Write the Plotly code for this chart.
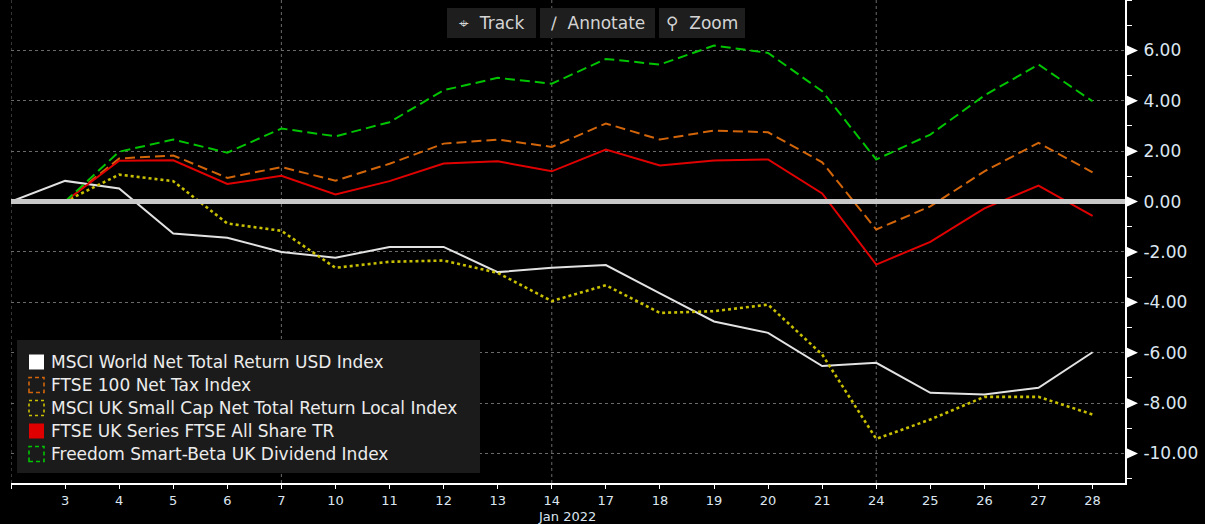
import plotly.graph_objects as go

# ---------------- data ----------------
dates = ["2021-12-31", "2022-01-03", "2022-01-04", "2022-01-05", "2022-01-06", "2022-01-07",
         "2022-01-10", "2022-01-11", "2022-01-12", "2022-01-13", "2022-01-14", "2022-01-17",
         "2022-01-18", "2022-01-19", "2022-01-20", "2022-01-21", "2022-01-24", "2022-01-25",
         "2022-01-26", "2022-01-27", "2022-01-28"]
day_labels = ["", "3", "4", "5", "6", "7", "10", "11", "12", "13", "14", "17", "18", "19",
              "20", "21", "24", "25", "26", "27", "28"]
week_grid_dates = ["2021-12-31", "2022-01-07", "2022-01-14", "2022-01-24"]

msci_world = [0, 0.82, 0.52, -1.27, -1.44, -2.00, -2.23, -1.80, -1.80, -2.80, -2.63, -2.52,
              -3.64, -4.76, -5.21, -6.53, -6.40, -7.59, -7.66, -7.39, -5.98]
ftse100 = [None, 0, 1.71, 1.83, 0.94, 1.37, 0.83, 1.50, 2.30, 2.46, 2.17, 3.10,
           2.46, 2.82, 2.75, 1.56, -1.11, -0.19, 1.20, 2.33, 1.16]
msci_uk_small = [None, 0, 1.07, 0.81, -0.87, -1.16, -2.63, -2.39, -2.34, -2.83, -3.95, -3.32,
                 -4.42, -4.35, -4.09, -6.07, -9.42, -8.65, -7.75, -7.75, -8.45]
ftse_all_share = [None, 0, 1.62, 1.64, 0.70, 1.02, 0.28, 0.81, 1.51, 1.60, 1.20, 2.06,
                  1.43, 1.63, 1.67, 0.32, -2.50, -1.60, -0.27, 0.63, -0.57]
freedom = [None, 0, 1.98, 2.46, 1.94, 2.90, 2.59, 3.15, 4.42, 4.91, 4.68, 5.66,
           5.44, 6.19, 5.90, 4.38, 1.67, 2.66, 4.21, 5.44, 3.98]

series_names = ["MSCI World Net Total Return USD Index",
                "FTSE 100 Net Tax Index",
                "MSCI UK Small Cap Net Total Return Local Index",
                "FTSE UK Series FTSE All Share TR",
                "Freedom Smart-Beta UK Dividend Index"]
series_values = [msci_world, ftse100, msci_uk_small, ftse_all_share, freedom]

y_tick_vals = [6, 4, 2, 0, -2, -4, -6, -8, -10]
x_axis_title = "Jan 2022"
toolbar_items = ["\u2316  Track", "\u2215  Annotate", "\u26b2  Zoom"]

# ---------------- styles ----------------
colors = ["#e2e2e2", "#d2650a", "#c8c000", "#e00000", "#00c400"]
dashes = ["solid", "10px,5px", "dot", "solid", "10px,5px"]
widths = [2, 2, 2.6, 2, 2]

W, H = 1205, 524
L, R, T, B = 11, 1125, 0, 483
YMIN, YMAX = -11.17, 8.0
FONT = "DejaVu Sans"


def pxx(x):
    return (x - L) / (R - L)


def pxy(y):
    return (B - y) / (B - T)


fig = go.Figure()
for name, vals, c, d, w in zip(series_names, series_values, colors, dashes, widths):
    fig.add_trace(go.Scatter(x=dates, y=vals, mode="lines", name=name,
                             line=dict(color=c, dash=d, width=w),
                             connectgaps=False, showlegend=False))

shapes = []
# vertical dotted week grid
for d in week_grid_dates:
    shapes.append(dict(type="line", xref="x", yref="paper", x0=d, x1=d, y0=0, y1=1,
                       line=dict(color="#6a6a6a", width=1, dash="dot"), layer="below"))
# zero line (drawn above)
shapes.append(dict(type="line", xref="paper", yref="y", x0=0, x1=1, y0=0, y1=0,
                   line=dict(color="#c8c8c8", width=5), layer="above"))
# triangle markers on right axis
dy = 5.5 / ((B - T) / (YMAX - YMIN))
for v in y_tick_vals:
    x0 = pxx(R + 1)
    x1 = pxx(R + 13)
    shapes.append(dict(type="path", xref="paper", yref="y",
                       path=f"M {x0},{v + dy} L {x1},{v} L {x0},{v - dy} Z",
                       fillcolor="white", line=dict(color="white", width=0), layer="above"))

annotations = []
# legend box
shapes.append(dict(type="rect", xref="paper", yref="paper",
                   x0=pxx(17), x1=pxx(480), y0=pxy(473), y1=pxy(340),
                   fillcolor="#1b1b1b", line=dict(width=0), layer="above"))
row_y = [362, 385, 408, 431, 454]
for i, (name, c) in enumerate(zip(series_names, colors)):
    cy = row_y[i]
    x0, x1 = pxx(29), pxx(44)
    y0, y1 = pxy(cy + 7.5), pxy(cy - 7.5)
    if dashes[i] == "solid":
        shapes.append(dict(type="rect", xref="paper", yref="paper", x0=x0, x1=x1, y0=y0, y1=y1,
                           fillcolor=c if i != 0 else "#ffffff", line=dict(width=0), layer="above"))
    else:
        shapes.append(dict(type="rect", xref="paper", yref="paper", x0=x0, x1=x1, y0=y0, y1=y1,
                           fillcolor="rgba(0,0,0,0)",
                           line=dict(color=c, width=1.6, dash="dot" if dashes[i] == "dot" else "4px,3px"),
                           layer="above"))
    annotations.append(dict(xref="paper", yref="paper", x=pxx(49), y=pxy(cy), text=name,
                            showarrow=False, xanchor="left", yanchor="middle",
                            font=dict(family=FONT, size=17, color="#ececec")))

# toolbar
tb_boxes = [(447, 536), (540, 655), (659, 745)]
for (a, b), label in zip(tb_boxes, toolbar_items):
    shapes.append(dict(type="rect", xref="paper", yref="paper",
                       x0=pxx(a), x1=pxx(b), y0=pxy(38), y1=pxy(8),
                       fillcolor="#1e1e1e", line=dict(width=0), layer="above"))
    annotations.append(dict(xref="paper", yref="paper", x=pxx((a + b) / 2), y=pxy(23),
                            text=label, showarrow=False, xanchor="center", yanchor="middle",
                            font=dict(family=FONT, size=17, color="#d4d4d4")))

# x axis title
annotations.append(dict(xref="paper", yref="paper", x=pxx(567), y=pxy(516), text=x_axis_title,
                        showarrow=False, xanchor="center", yanchor="middle",
                        font=dict(family=FONT, size=13, color="#dce6f0")))

fig.update_layout(
    width=W, height=H,
    margin=dict(l=L, r=W - R, t=T, b=H - B, pad=0),
    paper_bgcolor="black", plot_bgcolor="black",
    showlegend=False,
    shapes=shapes, annotations=annotations,
    xaxis=dict(type="category", categoryorder="array", categoryarray=dates,
               range=[0, 20.6], tickmode="array", tickvals=dates, ticktext=day_labels,
               showgrid=False, zeroline=False, showline=True, linecolor="white", linewidth=2,
               ticks="outside", ticklen=4, tickcolor="white", tickwidth=1,
               tickfont=dict(family=FONT, size=13, color="#dce6f0"), fixedrange=True),
    yaxis=dict(side="right", range=[YMIN, YMAX], tickmode="array", tickvals=y_tick_vals,
               ticktext=[f"{v:.2f}" for v in y_tick_vals],
               showgrid=True, gridcolor="#6a6a6a", griddash="dot", gridwidth=1,
               zeroline=False, showline=True, linecolor="white", linewidth=2,
               ticks="outside", ticklen=13, tickcolor="rgba(0,0,0,0)",
               minor=dict(dtick=1, tick0=1, ticks="outside", ticklen=5, tickcolor="white",
                          tickwidth=1, showgrid=False),
               tickfont=dict(family=FONT, size=17, color="#dce6f0"), fixedrange=True),
)

fig.write_html("out.html", config={"displayModeBar": False},
               post_script="document.body.style.margin='0';document.body.style.background='black';")
